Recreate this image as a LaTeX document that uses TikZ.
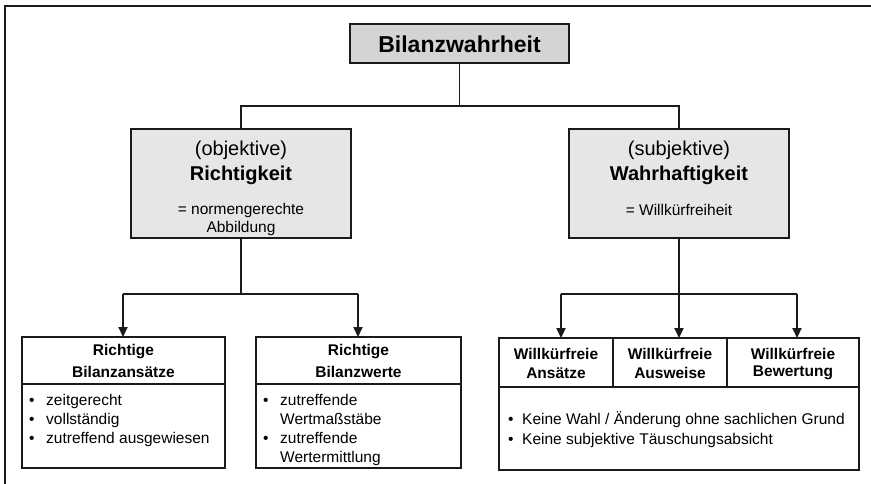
\documentclass[tikz,border=0pt]{standalone}
\usepackage{fontspec}
\setmainfont{Liberation Sans}
\usetikzlibrary{arrows.meta}
\definecolor{topfill}{HTML}{D4D4D4}
\definecolor{midfill}{HTML}{E6E6E6}
\definecolor{edge}{HTML}{1A1A1A}
\begin{document}
\begin{tikzpicture}[x=1pt,y=-1pt,
  box/.style={draw=edge,line width=1.6pt,inner sep=0pt,outer sep=0pt},
  txt/.style={inner sep=0pt,font=\fontsize{15.5}{19}\selectfont},
  btxt/.style={inner sep=0pt,font=\fontsize{15.5}{19}\selectfont\bfseries},
  ltxt/.style={inner sep=0pt,anchor=base west,font=\fontsize{15.5}{19}\selectfont},
  conn/.style={draw=edge,line width=1.3pt},
  arr/.style={draw=edge,line width=2.2pt,-{Triangle[width=9pt,length=10pt]}},
  hline/.style={draw=edge,line width=2.2pt}]
\useasboundingbox (0,0) rectangle (871,484);
\fill[white] (0,0) rectangle (871,484);
% outer frame (only top and left visible)
\draw[edge,line width=2pt] (5,484) -- (5,6) -- (871,6);

% top box
\node[box,fill=topfill,minimum width=219pt,minimum height=39pt] (top) at (459.5,43.5) {};
\node[inner sep=0pt,font=\fontsize{23}{27}\selectfont\bfseries] (toptxt) at (459.5,44) {Bilanzwahrheit};

% middle boxes
\node[box,fill=midfill,minimum width=220pt,minimum height=109pt] (left) at (241,183.5) {};
\node[inner sep=0pt,font=\fontsize{20}{24}\selectfont] (l1) at (241,150) {(objektive)};
\node[inner sep=0pt,font=\fontsize{20}{24}\selectfont\bfseries] (l2) at (241,175) {Richtigkeit};
\node[txt] (l3) at (241,210) {= normengerechte};
\node[txt] (l4) at (241,228) {Abbildung};

\node[box,fill=midfill,minimum width=220pt,minimum height=109pt] (right) at (679,183.5) {};
\node[inner sep=0pt,font=\fontsize{20}{24}\selectfont] (r1) at (679,150) {(subjektive)};
\node[inner sep=0pt,font=\fontsize{20}{24}\selectfont\bfseries] (r2) at (679,175) {Wahrhaftigkeit};
\node[txt] (r3) at (679,210) {= Willkürfreiheit};

% top connectors
\coordinate (tj) at (459.5,106);
\draw[conn] (top.south) -- (tj);
\draw[conn] (left.north) |- (tj) -| (right.north);

% bottom-left boxes
\node[box,minimum width=203pt,minimum height=131pt] (b1) at (123.5,402.5) {};
\draw[edge,line width=1.6pt] (22,384) -- (225,384);
\node[btxt] (b1h1) at (123.5,352) {Richtige};
\node[btxt] (b1h2) at (123.5,372) {Bilanzansätze};
\node[ltxt] (b1d1) at (29,405) {•};
\node[ltxt] (b1t1) at (46,405) {zeitgerecht};
\node[ltxt] (b1d2) at (29,424) {•};
\node[ltxt] (b1t2) at (46,424) {vollständig};
\node[ltxt] (b1d3) at (29,443) {•};
\node[ltxt] (b1t3) at (46,443) {zutreffend ausgewiesen};

\node[box,minimum width=205pt,minimum height=131pt] (b2) at (358.5,402.5) {};
\draw[edge,line width=1.6pt] (256,384) -- (461,384);
\node[btxt] (b2h1) at (358.5,352) {Richtige};
\node[btxt] (b2h2) at (358.5,372) {Bilanzwerte};
\node[ltxt] (b2d1) at (263,405) {•};
\node[ltxt] (b2t1) at (280,405) {zutreffende};
\node[ltxt] (b2t2) at (280,424) {Wertmaßstäbe};
\node[ltxt] (b2d3) at (263,443) {•};
\node[ltxt] (b2t3) at (280,443) {zutreffende};
\node[ltxt] (b2t4) at (280,462) {Wertermittlung};

% left arrows
\coordinate (lj) at (241,294);
\coordinate (lja) at (123,294);
\coordinate (ljb) at (358,294);
\draw[conn] (left.south) -- (lj);
\draw[hline] (lja) -- (ljb);
\draw[arr] (lja) -- (b1.north -| lja);
\draw[arr] (ljb) -- (b2.north -| ljb);

% bottom-right box
\node[box,minimum width=360pt,minimum height=132pt] (b3) at (679,404) {};
\draw[edge,line width=1.6pt] (499,387) -- (859,387);
\draw[edge,line width=1.6pt] (613,338) -- (613,387);
\draw[edge,line width=1.6pt] (727,338) -- (727,387);
\node[btxt] (c1a) at (556,354) {Willkürfreie};
\node[btxt] (c1b) at (556,373) {Ansätze};
\node[btxt] (c2a) at (670,354) {Willkürfreie};
\node[btxt] (c2b) at (670,373) {Ausweise};
\node[btxt] (c3a) at (793,354) {Willkürfreie};
\node[btxt] (c3b) at (793,373) {Bewertung};
\node[ltxt] (b3d1) at (508,424) {•};
\node[ltxt] (b3t1) at (522,424) {Keine Wahl / Änderung ohne sachlichen Grund};
\node[ltxt] (b3d2) at (508,444) {•};
\node[ltxt] (b3t2) at (522,444) {Keine subjektive Täuschungsabsicht};

% right arrows
\coordinate (rj) at (679,294);
\coordinate (rja) at (561,294);
\coordinate (rjb) at (797,294);
\draw[hline] (rja) -- (rjb);
\draw[conn] (right.south) -- (rj);
\draw[arr] (rj) -- (b3.north -| rj);
\draw[arr] (rja) -- (b3.north -| rja);
\draw[arr] (rjb) -- (b3.north -| rjb);
\end{tikzpicture}
\end{document}
